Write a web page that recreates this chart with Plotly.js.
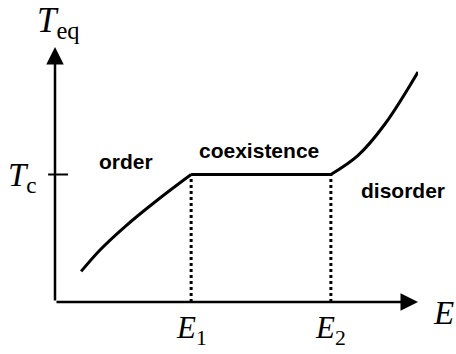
<!DOCTYPE html>
<html>
<head>
<meta charset="utf-8">
<script src="https://cdn.plot.ly/plotly-3.0.1.min.js"></script>
<style>
  html, body { margin: 0; padding: 0; background: #fff; }
  #plot { width: 456px; height: 354px; }
</style>
</head>
<body>
<div id="plot"></div>
<script>
  // ordered phase branch
  const orderE = [0.72, 1.24, 1.93, 2.84, 3.75];
  const orderT = [1.20, 2.04, 2.96, 4.02, 5.0];

  // coexistence plateau at Tc
  const E1 = 3.75;
  const E2 = 7.6;
  const Tc = 5.0;
  const coexE = [E1, E2];
  const coexT = [Tc, Tc];

  // disordered phase branch
  const disorderE = [7.6, 8.35, 9.09, 10.0];
  const disorderT = [5.0, 5.75, 6.98, 9.02];

  const regionLabels = ['order', 'coexistence', 'disorder'];

  const serif = 'Liberation Serif, Times New Roman, serif';
  const sans = 'Liberation Sans, Arial, sans-serif';

  const curve = { color: '#000', width: 3 };

  const data = [
    { x: orderE, y: orderT, mode: 'lines', line: Object.assign({ shape: 'spline', smoothing: 1 }, curve), cliponaxis: false },
    { x: coexE, y: coexT, mode: 'lines', line: curve, cliponaxis: false },
    { x: disorderE, y: disorderT, mode: 'lines', line: Object.assign({ shape: 'spline', smoothing: 1 }, curve), cliponaxis: false },
    // dotted drop lines at E1, E2
    { x: [E1, E1], y: [0, Tc], mode: 'lines', line: { color: '#000', width: 3, dash: 'dot' } },
    { x: [E2, E2], y: [0, Tc], mode: 'lines', line: { color: '#000', width: 3, dash: 'dot' } }
  ];

  const axisArrow = (x, y) => ({
    x: x, y: y, ax: 0, ay: 0, axref: 'x', ayref: 'y', xref: 'x', yref: 'y',
    text: '', showarrow: true, arrowhead: 2, arrowsize: 1.4, arrowwidth: 2.5,
    arrowcolor: '#000', standoff: 0, startstandoff: 0
  });

  // labels placed in paper units (paper = data / 10 with these margins)
  const label = (text, x, y, font) => ({
    text: text, x: x, y: y, xref: 'paper', yref: 'paper', showarrow: false,
    xanchor: 'center', yanchor: 'middle', font: font
  });

  const bold = { family: sans, size: 21, color: '#000', weight: 'bold' };
  const math = (size) => ({ family: serif, size: size, color: '#000' });

  const layout = {
    width: 456,
    height: 354,
    margin: { l: 55, r: 38, t: 47, b: 52 },
    paper_bgcolor: '#fff',
    plot_bgcolor: '#fff',
    showlegend: false,
    xaxis: { range: [0, 10], showgrid: false, zeroline: false, showticklabels: false, showline: false },
    yaxis: { range: [0, 10], showgrid: false, zeroline: false, showticklabels: false, showline: false },
    shapes: [
      // Tc tick across the y axis
      { type: 'line', xref: 'paper', yref: 'y', x0: -0.019, x1: 0.036, y0: Tc, y1: Tc, line: { color: '#000', width: 2 } }
    ],
    annotations: [
      axisArrow(10, 0),
      axisArrow(0, 10),
      label('<b>' + regionLabels[0] + '</b>', 0.196, 0.55, bold),
      label('<b>' + regionLabels[1] + '</b>', 0.563, 0.593, bold),
      label('<b>' + regionLabels[2] + '</b>', 0.96, 0.438, bold),
      label('<i>T</i><sub>eq</sub>', 0.01, 1.095, math(35)),
      label('<i>T</i><sub>c</sub>', -0.09, 0.49, math(33)),
      label('<i>E</i>', 1.07, -0.045, math(33)),
      label('<i>E</i><sub>1</sub>', E1 / 10, -0.11, math(31)),
      label('<i>E</i><sub>2</sub>', E2 / 10, -0.11, math(31))
    ]
  };

  Plotly.newPlot('plot', data, layout, { displayModeBar: false, staticPlot: true });
</script>
</body>
</html>
